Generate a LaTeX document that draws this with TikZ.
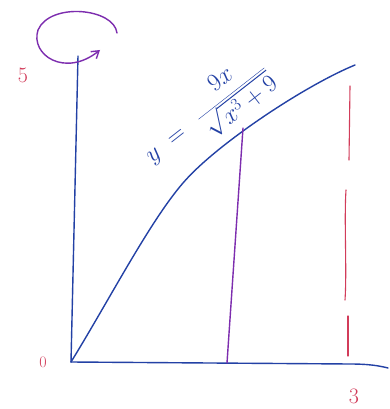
\documentclass[tikz,border=0pt]{standalone}
\usetikzlibrary{arrows.meta}
\definecolor{penblue}{RGB}{35,65,165}
\definecolor{penpurple}{RGB}{125,45,175}
\definecolor{penred}{RGB}{210,60,90}
\begin{document}
\begin{tikzpicture}[x=1pt,y=-1pt,
  pen/.style={line width=1.4pt,line cap=round,line join=round},
  axis/.style={pen,draw=penblue},
  lbl/.style={text=penred,inner sep=0pt,font=\fontsize{22}{24}\selectfont}]
\fill[white] (0,0) rectangle (390,409);
\useasboundingbox (0,0) rectangle (390,409);
% points
\coordinate (O) at (71,362);
\coordinate (Ytop) at (78,56);
\coordinate (Xend) at (388,368);
\coordinate (Cmid) at (183,183);
\coordinate (Cend) at (355,65);
\coordinate (Pbot) at (227,363);
\coordinate (Ptop) at (243,128);
% axes
\draw[axis] (O) -- (Ytop);
\draw[axis] (O) -- (350,364) .. controls (370,364) and (380,366) .. (Xend);
% curve
\draw[axis] (O) .. controls (108,302) and (150,221) .. (Cmid)
  .. controls (215.5,145) and (304,86) .. (Cend);
% shell line
\draw[pen,draw=penpurple] (Pbot) -- (Ptop);
% x = 3 line (hand dashed)
\draw[pen,draw=penred,line width=1.1pt] (350,86) -- (349,160);
\draw[pen,draw=penred,line width=1.1pt] (346,190) .. controls (344,220) and (347,270) .. (345,300);
\draw[pen,draw=penred,line width=1.1pt] (348,316) -- (348,356);
% rotation arrow
\draw[pen,draw=penpurple,-{Straight Barb[length=7pt,width=9pt]}]
  (117,33) .. controls (114,8) and (50,2) .. (38,30)
  .. controls (30,55) and (65,78) .. (100,50);
% labels
\node[lbl] (five) at (23,75) {5};
\node[lbl,font=\fontsize{16}{18}\selectfont] (zero) at (43,362) {0};
\node[lbl] (three) at (354,396) {3};
\node[text=penblue,rotate=38,inner sep=0pt,font=\fontsize{26}{30}\selectfont] (eq) at (207,113)
  {$\displaystyle y\;=\;\,\frac{9x}{\sqrt{x^3+9}}$};
\end{tikzpicture}
\end{document}
